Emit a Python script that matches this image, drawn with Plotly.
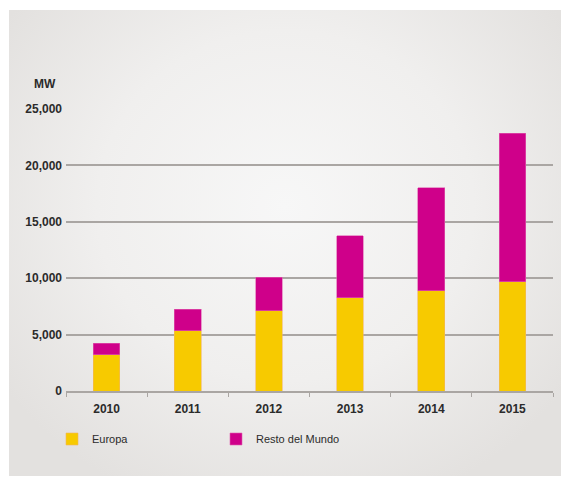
import plotly.graph_objects as go
from urllib.parse import quote

years = ["2010", "2011", "2012", "2013", "2014", "2015"]
europa = [3200, 5350, 7100, 8250, 8900, 9700]
resto = [1050, 1900, 3000, 5500, 9100, 13150]
y_ticks = [0, 5000, 10000, 15000, 20000, 25000]
y_labels = ["0", "5,000", "10,000", "15,000", "20,000", "25,000"]

YELLOW = "#F7CA00"
MAGENTA = "#CF008A"
TXT = "#2b2b2b"
GRID = "#aaa6a3"

fig = go.Figure()
fig.add_trace(go.Bar(x=years, y=europa, name="Europa", marker=dict(color=YELLOW, line=dict(width=0.6, color="#f2b560")), width=0.33))
fig.add_trace(go.Bar(x=years, y=resto, name="Resto del Mundo", marker=dict(color=MAGENTA, line=dict(width=0.6, color="#e060b0")), width=0.33))

W, H = 561, 477
L, R, T, B = 66, 8, 109, 86
pw, ph = W - L - R, H - T - B

svg = ("<svg xmlns='http://www.w3.org/2000/svg' width='552' height='466' viewBox='0 0 552 466' preserveAspectRatio='none'>"
       "<defs><radialGradient id='g' cx='0.5' cy='0.42' r='0.62' gradientTransform='translate(0.5 0.42) scale(1 1.1) translate(-0.5 -0.42)'>"
       "<stop offset='0' stop-color='#f7f7f7'/><stop offset='0.55' stop-color='#f0efee'/><stop offset='1' stop-color='#e3e1df'/></radialGradient></defs>"
       "<rect width='552' height='466' fill='url(#g)'/></svg>")
src = "data:image/svg+xml;charset=utf-8," + quote(svg)

px0, py0, px1, py1 = 9, 10, 561, 476
fig.add_layout_image(dict(
    source=src, xref="paper", yref="paper",
    x=(px0 - L) / pw, y=(H - B - py0) / ph,
    sizex=(px1 - px0) / pw, sizey=(py1 - py0) / ph,
    xanchor="left", yanchor="top", sizing="stretch", layer="below"))

fig.add_annotation(text="MW", xref="paper", yref="paper",
                   x=(32 - L) / pw, y=(H - B - 84) / ph, xanchor="left", yanchor="middle",
                   showarrow=False, font=dict(size=12, color=TXT, family="Liberation Sans", weight="bold"))

fig.update_layout(
    width=W, height=H,
    margin=dict(l=L, r=R, t=T, b=B, pad=0),
    paper_bgcolor="white", plot_bgcolor="rgba(0,0,0,0)",
    barmode="stack", bargap=0.67,
    font=dict(family="Liberation Sans", color=TXT, size=12),
    showlegend=True,
    legend=dict(orientation="h", x=(52 - L) / pw, y=(H - B - 439) / ph, xanchor="left", yanchor="middle",
                entrywidth=119, bgcolor="rgba(0,0,0,0)", font=dict(size=11, color=TXT),
                itemclick=False, traceorder="normal"),
    xaxis=dict(type="category", showgrid=False, showline=True, linecolor=GRID, linewidth=1.5,
               ticks="outside", tickson="boundaries", ticklen=4, tickcolor=GRID, tickwidth=1.2,
               tickfont=dict(size=12, color=TXT, weight="bold"), ticklabelstandoff=6),
    yaxis=dict(range=[0, 25000], tickvals=y_ticks, ticktext=y_labels, showgrid=True,
               gridcolor=GRID, gridwidth=1.5, zeroline=False, showline=False,
               ticks="", tickfont=dict(size=12, color=TXT, weight="bold"), ticklabelstandoff=3),
)

fig.write_html("out.html")
